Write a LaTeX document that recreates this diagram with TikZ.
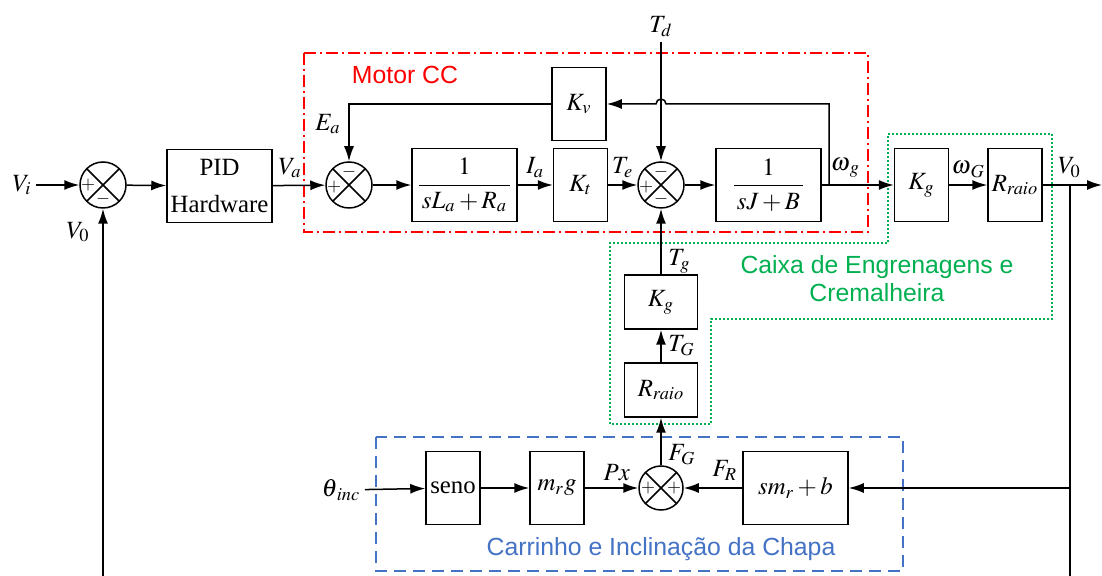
\documentclass[tikz,border=0pt]{standalone}
\usepackage{amsmath}
\usepackage{mathptmx}
\usepackage{fontspec}
\setmainfont{Liberation Serif}
\setsansfont{Liberation Sans}
\usetikzlibrary{arrows.meta,calc,positioning}
\newcommand{\Rraio}{R_{\mathit{raio}}}
\definecolor{motorred}{RGB}{255,0,0}
\definecolor{caixagreen}{RGB}{0,176,80}
\definecolor{carroblue}{RGB}{68,114,196}
\tikzset{
  blk/.style={draw,minimum width=27pt,minimum height=36.5pt,inner sep=0pt},
  wblk/.style={blk,minimum width=52.5pt},
  vblk/.style={blk,minimum width=36.5pt,minimum height=27pt},
  sumnode/.style={draw,circle,minimum size=23pt,inner sep=0pt,
    path picture={\draw (path picture bounding box.south west)--(path picture bounding box.north east)
      (path picture bounding box.north west)--(path picture bounding box.south east);}},
  sgn/.style={font=\fontsize{9}{10}\selectfont,inner sep=0pt},
  sig/.style={inner sep=2pt},
  frametxt/.style={font=\sffamily\fontsize{12.4}{14}\selectfont,align=center}
}

\begin{document}
\begin{tikzpicture}[x=0.5pt,y=-0.5pt,>={Latex[length=7.5pt,width=5pt]},line width=0.75pt,font=\fontsize{12.4}{14.5}\selectfont]
\useasboundingbox (0,0) rectangle (1102,576);
\draw[motorred,line width=0.6pt,dash pattern=on 6pt off 2pt on 1pt off 2pt] (304,53) rectangle (868,232);
\draw[caixagreen,line width=0.6pt,dash pattern=on 1pt off 1pt] (888,134) -- (1052,134) -- (1052,319) -- (711,319) -- (711,424) -- (610,424) -- (610,243) -- (888,243) -- cycle;
\draw[carroblue,line width=0.6pt,dash pattern=on 6pt off 3.5pt] (376,437) rectangle (903,571);
\node[frametxt,text=motorred] (motor) at (405,75) {Motor CC};
\node[frametxt,text=caixagreen] (caixa) at (877,279) {Caixa de Engrenagens e\\Cremalheira};
\node[frametxt,text=carroblue] (carro) at (661,549) {Carrinho e Inclinação da Chapa};

\node[sumnode] (s1) at (103,185) {};
\node[wblk,align=center] (pid) at (219.5,186) {PID\\[4pt]Hardware};
\node[sumnode] (s2) at (349,185) {};
\node[wblk] (bla) at (464.5,185) {$\dfrac{1}{\,sL_a+R_a\,}$};
\node[blk] (kt) at (580.5,185) {$K_t$};
\node[sumnode] (s3) at (661,185) {};
\node[wblk] (bj) at (768.5,185) {$\dfrac{1}{\,sJ+B\,}$};
\node[blk] (kv) at (579,104) {$K_v$};
\node[blk] (kg1) at (921.5,185) {$K_g$};
\node[blk] (rr1) at (1015,185) {$\Rraio$};
\node[vblk] (kg2) at (661,302) {$K_g$};
\node[vblk] (rr2) at (661,390) {$\Rraio$};
\node[sumnode,minimum size=22pt] (s4) at (661,488) {};
\node[blk] (seno) at (453,488) {seno};
\node[blk] (mrg) at (557,488) {$m_r g$};
\node[wblk] (smb) at (795.5,488) {$sm_r+b$};

\node[sgn] (s1p) at ($(s1)+(-15,0)$) {$+$};
\node[sgn] (s1m) at ($(s1)+(0,14)$) {$-$};
\node[sgn] (s2p) at ($(s2)+(-15,2)$) {$+$};
\node[sgn] (s2m) at ($(s2)+(0,-13)$) {$-$};
\node[sgn] (s3p) at ($(s3)+(-15,2)$) {$+$};
\node[sgn] (s3m) at ($(s3)+(0,-13)$) {$-$};
\node[sgn] (s3n) at ($(s3)+(0,14)$) {$-$};
\node[sgn] (s4p) at ($(s4)+(-13,0)$) {$+$};
\node[sgn] (s4q) at ($(s4)+(13,0)$) {$+$};

\node[sig] (vi) at (22,185) {$V_i$};
\node[sig] (ea) at (328,124) {$E_a$};
\node[sig] (td) at (661,27) {$T_d$};
\node[sig] (v0l) at (78,232) {$V_0$};
\node[sig] (thinc) at (341,490) {$\theta_{\,inc}$};
\coordinate (br1) at (829,185);
\coordinate (out) at (1102,185);
\coordinate (br2) at (1070,185);
\coordinate (j2) at (1070,488);
\coordinate (bot1) at (103,576);
\coordinate (bot2) at (1070,576);

\draw[->] (vi) -- (s1);
\draw[->] (s1) -- (pid);
\draw[->] (pid) -- node[above,pos=0.33]{$V_a$} (s2);
\draw[->] (s2) -- (bla);
\draw[->] (bla) -- node[above]{$I_a$} (kt);
\draw[->] (kt) -- node[above]{$T_e$} (s3);
\draw[->] (s3) -- (bj);
\draw[->] (bj) -- node[above,pos=0.33]{$\omega_{\,g}$} (kg1);
\draw[->] (kg1) -- node[above]{$\omega_{\,G}$} (rr1);
\draw[->] (rr1) -- node[above,pos=0.45]{$V_0$} (out);
\draw[->] (td) -- (s3);
\draw[->] (br1) -- (br1 |- kv.east) -- ($(s3 |- kv.east)+(5,0)$) arc[start angle=0,end angle=180,radius=2.5pt] -- (kv.east);
\draw[->] (kv) -| (s2);
\draw[->] (kg2) -- node[right,pos=0.2]{$T_g$} (s3);
\draw[->] (rr2) -- node[right]{$T_G$} (kg2);
\draw[->] (s4) -- node[right,pos=0.22]{$F_G$} (rr2);
\draw[->] (thinc) -- (seno);
\draw[->] (seno) -- (mrg);
\draw[->] (mrg) -- node[above,pos=0.6]{$Px$} (s4);
\draw[->] (smb) -- node[above,pos=0.3]{$F_R$} (s4);
\draw (br2) -- (bot2);
\draw[->] (j2) -- (smb);
\draw[->] (bot1) -- (s1);
\end{tikzpicture}
\end{document}
